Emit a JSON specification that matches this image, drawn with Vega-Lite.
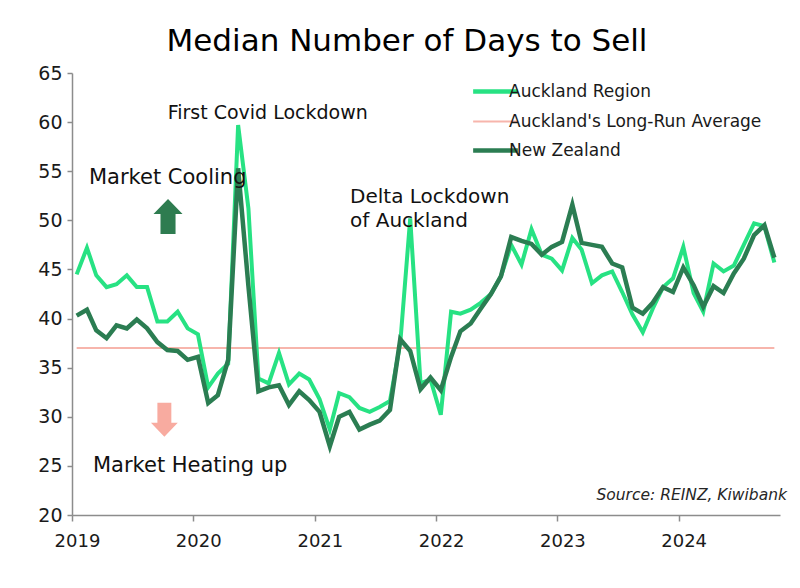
{
  "$schema": "https://vega.github.io/schema/vega-lite/v6.json",
  "width": 708,
  "height": 442,
  "autosize": "none",
  "padding": {"left": 72, "top": 73, "right": 20, "bottom": 73},
  "background": "white",
  "title": {
    "text": "Median Number of Days to Sell",
    "font": "DejaVu Sans",
    "fontSize": 31,
    "fontWeight": "normal",
    "color": "#000000",
    "anchor": "middle",
    "frame": "group",
    "dx": -19,
    "offset": 6
  },
  "config": {
    "view": {"stroke": null},
    "font": "DejaVu Sans",
    "axis": {
      "domainColor": "#8c8c8c",
      "tickColor": "#8c8c8c",
      "domainWidth": 1.5,
      "tickWidth": 1.5,
      "labelColor": "#1a1a1a",
      "labelFont": "DejaVu Sans",
      "grid": false,
      "title": null
    },
    "legend": {
      "orient": "none",
      "legendX": 415,
      "legendY": 10,
      "title": null,
      "symbolType": "stroke",
      "symbolSize": 2000,
      "symbolStrokeWidth": 4,
      "labelFontSize": 17,
      "labelFont": "DejaVu Sans",
      "labelColor": "#1a1a1a",
      "labelOffset": 5,
      "labelLimit": 400,
      "rowPadding": 11
    }
  },
  "encoding": {
    "x": {
      "field": "date",
      "type": "temporal",
      "scale": {
        "type": "utc",
        "domain": [
          {"year": 2019, "month": 1, "date": 1, "utc": true},
          {"year": 2024, "month": 11, "date": 1, "utc": true}
        ]
      },
      "axis": {
        "values": [
          {"year": 2019, "month": 1, "date": 1, "utc": true},
          {"year": 2020, "month": 1, "date": 1, "utc": true},
          {"year": 2021, "month": 1, "date": 1, "utc": true},
          {"year": 2022, "month": 1, "date": 1, "utc": true},
          {"year": 2023, "month": 1, "date": 1, "utc": true},
          {"year": 2024, "month": 1, "date": 1, "utc": true}
        ],
        "format": "%Y",
        "tickSize": 6,
        "labelPadding": 11,
        "labelOffset": 5,
        "labelFontSize": 18,
        "labelFlush": false,
        "labelOverlap": false
      }
    },
    "y": {
      "field": "value",
      "type": "quantitative",
      "scale": {"domain": [20, 65], "zero": false, "nice": false},
      "axis": {
        "values": [20, 25, 30, 35, 40, 45, 50, 55, 60, 65],
        "tickSize": 5,
        "labelPadding": 5,
        "labelFontSize": 19
      }
    }
  },
  "datasets": {
    "monthly": [
      {"date": "2019-01-15", "Auckland Region": 44.5, "New Zealand": 40.3, "Long-Run Average": 37},
      {"date": "2019-02-15", "Auckland Region": 47.2, "New Zealand": 40.9, "Long-Run Average": 37},
      {"date": "2019-03-15", "Auckland Region": 44.4, "New Zealand": 38.8, "Long-Run Average": 37},
      {"date": "2019-04-15", "Auckland Region": 43.2, "New Zealand": 38.0, "Long-Run Average": 37},
      {"date": "2019-05-15", "Auckland Region": 43.5, "New Zealand": 39.3, "Long-Run Average": 37},
      {"date": "2019-06-15", "Auckland Region": 44.4, "New Zealand": 39.0, "Long-Run Average": 37},
      {"date": "2019-07-15", "Auckland Region": 43.2, "New Zealand": 39.9, "Long-Run Average": 37},
      {"date": "2019-08-15", "Auckland Region": 43.2, "New Zealand": 39.0, "Long-Run Average": 37},
      {"date": "2019-09-15", "Auckland Region": 39.7, "New Zealand": 37.6, "Long-Run Average": 37},
      {"date": "2019-10-15", "Auckland Region": 39.7, "New Zealand": 36.8, "Long-Run Average": 37},
      {"date": "2019-11-15", "Auckland Region": 40.7, "New Zealand": 36.7, "Long-Run Average": 37},
      {"date": "2019-12-15", "Auckland Region": 39.0, "New Zealand": 35.8, "Long-Run Average": 37},
      {"date": "2020-01-15", "Auckland Region": 38.4, "New Zealand": 36.1, "Long-Run Average": 37},
      {"date": "2020-02-15", "Auckland Region": 33.0, "New Zealand": 31.4, "Long-Run Average": 37},
      {"date": "2020-03-15", "Auckland Region": 34.4, "New Zealand": 32.2, "Long-Run Average": 37},
      {"date": "2020-04-15", "Auckland Region": 35.4, "New Zealand": 35.8, "Long-Run Average": 37},
      {"date": "2020-05-15", "Auckland Region": 59.7, "New Zealand": 55.3, "Long-Run Average": 37},
      {"date": "2020-06-15", "Auckland Region": 51.2, "New Zealand": 43.3, "Long-Run Average": 37},
      {"date": "2020-07-15", "Auckland Region": 33.9, "New Zealand": 32.6, "Long-Run Average": 37},
      {"date": "2020-08-15", "Auckland Region": 33.4, "New Zealand": 33.0, "Long-Run Average": 37},
      {"date": "2020-09-15", "Auckland Region": 36.5, "New Zealand": 33.2, "Long-Run Average": 37},
      {"date": "2020-10-15", "Auckland Region": 33.3, "New Zealand": 31.2, "Long-Run Average": 37},
      {"date": "2020-11-15", "Auckland Region": 34.4, "New Zealand": 32.6, "Long-Run Average": 37},
      {"date": "2020-12-15", "Auckland Region": 33.8, "New Zealand": 31.7, "Long-Run Average": 37},
      {"date": "2021-01-15", "Auckland Region": 31.8, "New Zealand": 30.5, "Long-Run Average": 37},
      {"date": "2021-02-15", "Auckland Region": 28.7, "New Zealand": 27.0, "Long-Run Average": 37},
      {"date": "2021-03-15", "Auckland Region": 32.4, "New Zealand": 30.0, "Long-Run Average": 37},
      {"date": "2021-04-15", "Auckland Region": 32.0, "New Zealand": 30.5, "Long-Run Average": 37},
      {"date": "2021-05-15", "Auckland Region": 30.9, "New Zealand": 28.7, "Long-Run Average": 37},
      {"date": "2021-06-15", "Auckland Region": 30.5, "New Zealand": 29.2, "Long-Run Average": 37},
      {"date": "2021-07-15", "Auckland Region": 31.0, "New Zealand": 29.6, "Long-Run Average": 37},
      {"date": "2021-08-15", "Auckland Region": 31.6, "New Zealand": 30.7, "Long-Run Average": 37},
      {"date": "2021-09-15", "Auckland Region": 37.5, "New Zealand": 37.9, "Long-Run Average": 37},
      {"date": "2021-10-15", "Auckland Region": 50.2, "New Zealand": 36.7, "Long-Run Average": 37},
      {"date": "2021-11-15", "Auckland Region": 33.4, "New Zealand": 32.8, "Long-Run Average": 37},
      {"date": "2021-12-15", "Auckland Region": 33.8, "New Zealand": 34.0, "Long-Run Average": 37},
      {"date": "2022-01-15", "Auckland Region": 30.2, "New Zealand": 32.7, "Long-Run Average": 37},
      {"date": "2022-02-15", "Auckland Region": 40.7, "New Zealand": 36.1, "Long-Run Average": 37},
      {"date": "2022-03-15", "Auckland Region": 40.5, "New Zealand": 38.7, "Long-Run Average": 37},
      {"date": "2022-04-15", "Auckland Region": 40.9, "New Zealand": 39.5, "Long-Run Average": 37},
      {"date": "2022-05-15", "Auckland Region": 41.6, "New Zealand": 41.0, "Long-Run Average": 37},
      {"date": "2022-06-15", "Auckland Region": 42.5, "New Zealand": 42.5, "Long-Run Average": 37},
      {"date": "2022-07-15", "Auckland Region": 44.3, "New Zealand": 44.3, "Long-Run Average": 37},
      {"date": "2022-08-15", "Auckland Region": 47.5, "New Zealand": 48.3, "Long-Run Average": 37},
      {"date": "2022-09-15", "Auckland Region": 45.5, "New Zealand": 47.9, "Long-Run Average": 37},
      {"date": "2022-10-15", "Auckland Region": 49.1, "New Zealand": 47.6, "Long-Run Average": 37},
      {"date": "2022-11-15", "Auckland Region": 46.5, "New Zealand": 46.5, "Long-Run Average": 37},
      {"date": "2022-12-15", "Auckland Region": 46.1, "New Zealand": 47.3, "Long-Run Average": 37},
      {"date": "2023-01-15", "Auckland Region": 44.9, "New Zealand": 47.8, "Long-Run Average": 37},
      {"date": "2023-02-15", "Auckland Region": 48.2, "New Zealand": 51.6, "Long-Run Average": 37},
      {"date": "2023-03-15", "Auckland Region": 47.0, "New Zealand": 47.7, "Long-Run Average": 37},
      {"date": "2023-04-15", "Auckland Region": 43.6, "New Zealand": 47.5, "Long-Run Average": 37},
      {"date": "2023-05-15", "Auckland Region": 44.4, "New Zealand": 47.3, "Long-Run Average": 37},
      {"date": "2023-06-15", "Auckland Region": 44.8, "New Zealand": 45.6, "Long-Run Average": 37},
      {"date": "2023-07-15", "Auckland Region": 42.7, "New Zealand": 45.2, "Long-Run Average": 37},
      {"date": "2023-08-15", "Auckland Region": 40.4, "New Zealand": 41.1, "Long-Run Average": 37},
      {"date": "2023-09-15", "Auckland Region": 38.6, "New Zealand": 40.5, "Long-Run Average": 37},
      {"date": "2023-10-15", "Auckland Region": 41.0, "New Zealand": 41.6, "Long-Run Average": 37},
      {"date": "2023-11-15", "Auckland Region": 43.2, "New Zealand": 43.2, "Long-Run Average": 37},
      {"date": "2023-12-15", "Auckland Region": 44.1, "New Zealand": 42.7, "Long-Run Average": 37},
      {"date": "2024-01-15", "Auckland Region": 47.3, "New Zealand": 45.2, "Long-Run Average": 37},
      {"date": "2024-02-15", "Auckland Region": 42.6, "New Zealand": 43.4, "Long-Run Average": 37},
      {"date": "2024-03-15", "Auckland Region": 40.7, "New Zealand": 41.2, "Long-Run Average": 37},
      {"date": "2024-04-15", "Auckland Region": 45.6, "New Zealand": 43.3, "Long-Run Average": 37},
      {"date": "2024-05-15", "Auckland Region": 44.8, "New Zealand": 42.6, "Long-Run Average": 37},
      {"date": "2024-06-15", "Auckland Region": 45.4, "New Zealand": 44.6, "Long-Run Average": 37},
      {"date": "2024-07-15", "Auckland Region": 47.5, "New Zealand": 46.1, "Long-Run Average": 37},
      {"date": "2024-08-15", "Auckland Region": 49.7, "New Zealand": 48.5, "Long-Run Average": 37},
      {"date": "2024-09-15", "Auckland Region": 49.4, "New Zealand": 49.5, "Long-Run Average": 37},
      {"date": "2024-10-15", "Auckland Region": 45.7, "New Zealand": 46.2, "Long-Run Average": 37}
    ]
  },
  "layer": [
    {
      "data": {"name": "monthly"},
      "transform": [
        {"fold": ["Auckland Region", "Long-Run Average", "New Zealand"], "as": ["series", "value"]},
        {"filter": {"field": "series", "equal": "Long-Run Average"}}
      ],
      "mark": {"type": "line", "strokeCap": "butt", "strokeWidth": 2},
      "encoding": {
        "color": {
          "field": "series", "type": "nominal",
          "scale": {"domain": ["Auckland Region", "Long-Run Average", "New Zealand"], "range": ["#27e283", "#f7b5ac", "#2b7d52"]},
          "legend": {
            "labelExpr": "datum.label === 'Long-Run Average' ? \"Auckland's Long-Run Average\" : datum.label",
            "symbolType": "stroke",
            "symbolSize": 2000,
            "encode": {"symbols": {"update": {"strokeWidth": {"signal": "datum.value === 'Long-Run Average' ? 2 : 4.5"}, "size": {"value": 2000}}}}
          }
        }
      }
    },
    {
      "data": {"name": "monthly"},
      "transform": [
        {"fold": ["Auckland Region", "Long-Run Average", "New Zealand"], "as": ["series", "value"]},
        {"filter": {"field": "series", "equal": "Auckland Region"}}
      ],
      "mark": {"type": "line", "strokeJoin": "miter", "strokeWidth": 4},
      "encoding": {
        "color": {"field": "series", "type": "nominal"}
      }
    },
    {
      "data": {"name": "monthly"},
      "transform": [
        {"fold": ["Auckland Region", "Long-Run Average", "New Zealand"], "as": ["series", "value"]},
        {"filter": {"field": "series", "equal": "New Zealand"}}
      ],
      "mark": {"type": "line", "strokeJoin": "miter", "strokeWidth": 4.5},
      "encoding": {
        "color": {"field": "series", "type": "nominal"}
      }
    },
    {
      "data": {"values": [
        {"date": "2019-10-17", "value": 50.4}
      ]},
      "mark": {"type": "point", "filled": true, "opacity": 1, "fill": "#2e7c50", "strokeWidth": 0, "size": 1225,
        "shape": "M0,-1L0.83,-0.14L0.43,-0.14L0.43,1L-0.43,1L-0.43,-0.14L-0.83,-0.14Z"}
    },
    {
      "data": {"values": [
        {"date": "2019-10-06", "value": 29.7}
      ]},
      "mark": {"type": "point", "filled": true, "opacity": 1, "fill": "#f8aba0", "strokeWidth": 0, "size": 1156,
        "shape": "M0,1L0.79,0.18L0.41,0.18L0.41,-1L-0.41,-1L-0.41,0.18L-0.79,0.18Z"}
    },
    {
      "data": {"values": [
        {"date": "2019-10-16", "value": 60.9, "label": "First Covid Lockdown"}
      ]},
      "mark": {"type": "text", "align": "left", "baseline": "middle", "fontSize": 19, "color": "#111111"},
      "encoding": {"text": {"field": "label"}}
    },
    {
      "data": {"values": [
        {"date": "2019-02-21", "value": 54.3, "label": "Market Cooling"},
        {"date": "2019-03-05", "value": 25.0, "label": "Market Heating up"}
      ]},
      "mark": {"type": "text", "align": "left", "baseline": "middle", "fontSize": 21, "color": "#111111"},
      "encoding": {"text": {"field": "label"}}
    },
    {
      "data": {"values": [
        {"date": "2021-04-17", "value": 52.4, "label": "Delta Lockdown"},
        {"date": "2021-04-17", "value": 49.9, "label": "of Auckland"}
      ]},
      "mark": {"type": "text", "align": "left", "baseline": "middle", "fontSize": 20, "color": "#111111"},
      "encoding": {"text": {"field": "label"}}
    },
    {
      "data": {"values": [
        {"date": "2024-11-22", "value": 22.0, "label": "Source:  REINZ, Kiwibank"}
      ]},
      "mark": {"type": "text", "align": "right", "baseline": "middle", "fontSize": 15.5, "fontStyle": "italic", "color": "#262626"},
      "encoding": {"text": {"field": "label"}}
    }
  ]
}
